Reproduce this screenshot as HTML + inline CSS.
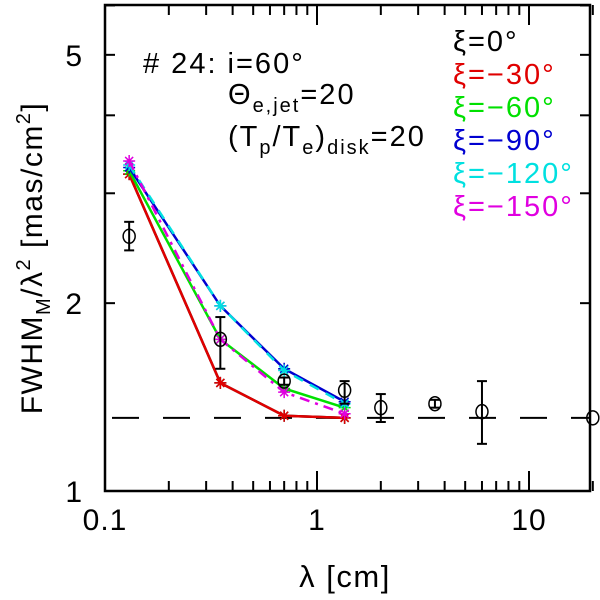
<!DOCTYPE html>
<html><head><meta charset="utf-8"><style>
body{margin:0;background:#fff}
svg{display:block;font-family:"Liberation Sans","DejaVu Sans",sans-serif}
</style></head><body>
<svg id="chart" width="600" height="600" viewBox="0 0 600 600">
<g id="marks"></g>
<rect x="105" y="5" width="485" height="486" fill="none" stroke="#000" stroke-width="2.5"/>
<g id="ticks"></g>
<g font-size="29" letter-spacing="2">
<text x="143" y="73"># 24:  i=60°</text>
<text x="228" y="104">Θ<tspan font-size="20" dy="8">e,jet</tspan><tspan dy="-8">=20</tspan></text>
<text x="228" y="146">(T<tspan font-size="20" dy="8">p</tspan><tspan dy="-8">/T</tspan><tspan font-size="20" dy="8">e</tspan><tspan dy="-8">)</tspan><tspan font-size="20" dy="8">disk</tspan><tspan dy="-8">=20</tspan></text>
</g>
<g id="legend" font-size="29" letter-spacing="2"></g>
<text x="345" y="587" font-size="31" letter-spacing="1.5" text-anchor="middle">λ [cm]</text>
<text transform="translate(42,258) rotate(-90)" font-size="30" letter-spacing="1.5" text-anchor="middle">FWHM<tspan font-size="20" dy="8">M</tspan><tspan dy="-8">/λ</tspan><tspan font-size="20" dy="-12">2</tspan><tspan dy="12"> [mas/cm</tspan><tspan font-size="20" dy="-12">2</tspan><tspan dy="12">]</tspan></text>
</svg>
<script>
const modelX=[0.13,0.35,0.7,1.35];
const seriesNames=["ξ=0°","ξ=−30°","ξ=−60°","ξ=−90°","ξ=−120°","ξ=−150°"];
const seriesColors=["#000","#e00000","#00e000","#0000d0","#00e0e0","#e000e0"];
const s0=[3.22,1.49,1.32,1.31];
const s1=[3.22,1.49,1.32,1.31];
const s2=[3.26,1.75,1.46,1.36];
const s3=[3.3,1.98,1.57,1.39];
const s4=[3.33,1.98,1.56,1.38];
const s5=[3.38,1.75,1.44,1.33];
const obsX=[0.13,0.35,0.7,1.35,2.0,3.6,6.0,20];
const obsY=[2.56,1.75,1.5,1.45,1.36,1.38,1.34,1.31];
const obsLo=[2.43,1.57,1.48,1.38,1.29,1.36,1.19,1.31];
const obsHi=[2.7,1.9,1.52,1.5,1.43,1.4,1.5,1.31];
const refLevel=1.31;
const xTickLabels=["0.1","1","10"];
const xTickVals=[0.1,1,10];
const yTickLabels=["1","2","5"];
const yTickVals=[1,2,5];

const NS="http://www.w3.org/2000/svg";
const X=v=>105+212*(Math.log10(v)+1);
const Y=v=>491-624*Math.log10(v);
const marks=document.getElementById('marks'),ticks=document.getElementById('ticks'),legend=document.getElementById('legend');
function mk(tag,attrs,parent){const e=document.createElementNS(NS,tag);for(const k in attrs)e.setAttribute(k,attrs[k]);parent.appendChild(e);return e;}

const ref=mk('line',{x1:105,x2:590,y1:Y(refLevel),y2:Y(refLevel),stroke:'#000','stroke-width':2,'stroke-dasharray':'27,24','stroke-dashoffset':'-7'},marks);



const series=[s0,s1,s2,s3,s4,s5];
const dashes=[null,null,null,null,'10,8','10,6,3,6'];
series.forEach((s,i)=>{
  const g=mk('g',{},marks);
  
  
  const pts=s.map((v,j)=>X(modelX[j])+','+Y(v)).join(' ');
  const a={points:pts,fill:'none',stroke:seriesColors[i],'stroke-width':2.5};
  if(dashes[i])a['stroke-dasharray']=dashes[i];
  mk('polyline',a,g);
  s.forEach((v,j)=>{
    const cx=X(modelX[j]),cy=Y(v),r=6;
    const st=mk('path',{d:`M${cx-r},${cy}H${cx+r}M${cx},${cy-r}V${cy+r}M${cx-4},${cy-4}L${cx+4},${cy+4}M${cx-4},${cy+4}L${cx+4},${cy-4}`,stroke:seriesColors[i],'stroke-width':1.5},g);
    
    
  });
});

obsX.forEach((x,j)=>{
  const g=mk('g',{stroke:'#000','stroke-width':2,fill:'none'},marks);
  
  
  const cx=X(x);
  if(obsHi[j]!==obsLo[j]){
    mk('line',{x1:cx,x2:cx,y1:Y(obsHi[j]),y2:Y(obsLo[j])},g);
    mk('line',{x1:cx-5,x2:cx+5,y1:Y(obsHi[j]),y2:Y(obsHi[j])},g);
    mk('line',{x1:cx-5,x2:cx+5,y1:Y(obsLo[j]),y2:Y(obsLo[j])},g);
  }
  mk('ellipse',{cx:cx,cy:Y(obsY[j]),rx:6,ry:7,'stroke-width':1.5},g);
});

for(let d=-1;d<=1;d++)for(let m=1;m<=9;m++){
  const v=m*Math.pow(10,d);if(v<0.1||v>20.5)continue;
  const x=X(v),len=m===1?20:10;
  const t1=mk('line',{x1:x,x2:x,y1:491,y2:491-len,stroke:'#000','stroke-width':2},ticks);
  
  const t2=mk('line',{x1:x,x2:x,y1:5,y2:5+len,stroke:'#000','stroke-width':2},ticks);
  
}
for(let m=1;m<=6;m++){
  const y=Y(m),len=m===1?20:10;
  mk('line',{x1:105,x2:105+len,y1:y,y2:y,stroke:'#000','stroke-width':2},ticks);
  mk('line',{x1:590,x2:590-len,y1:y,y2:y,stroke:'#000','stroke-width':2},ticks);
}
xTickVals.forEach((v,i)=>{
  const t=mk('text',{x:X(v),y:530,'font-size':30,'letter-spacing':1,'text-anchor':'middle'},ticks);
  t.textContent=xTickLabels[i];
  
  
});
yTickVals.forEach((v,i)=>{
  const t=mk('text',{x:82,y:Y(v)+11,'font-size':30,'text-anchor':'end'},ticks);
  t.textContent=yTickLabels[i];
  
  
});
seriesNames.forEach((n,i)=>{
  const t=mk('text',{x:453,y:51+33*i,fill:seriesColors[i]},legend);
  t.textContent=n;
  
  
});
</script>
</body></html>
